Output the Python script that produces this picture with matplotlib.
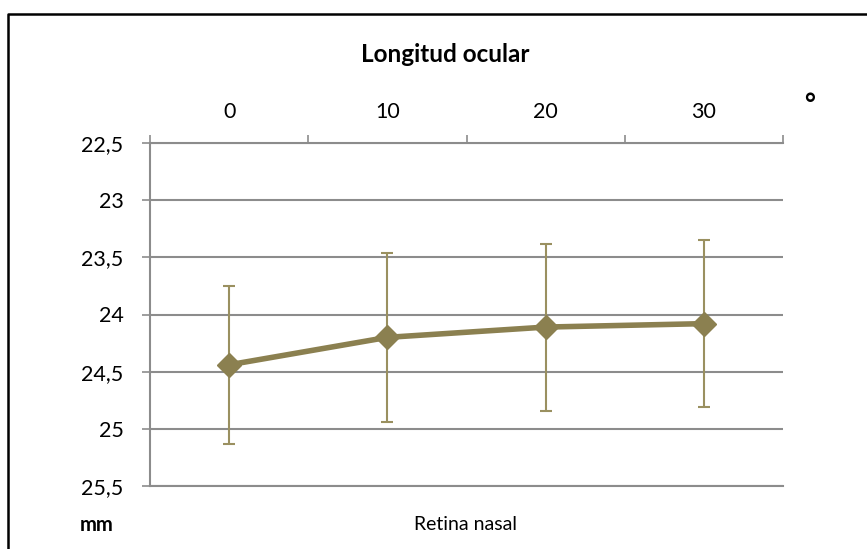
import matplotlib.pyplot as plt
from matplotlib.lines import Line2D
from matplotlib.ticker import FixedLocator, FuncFormatter

# Longitud ocular por excentricidad (retina nasal)
angulos = ["0", "10", "20", "30"]
longitud_media = [24.44, 24.20, 24.11, 24.08]
longitud_de = [0.69, 0.74, 0.73, 0.73]
marcas_y = [22.5, 23.0, 23.5, 24.0, 24.5, 25.0, 25.5]

OLIVA = "#8b8050"
OLIVA_CLARO = "#9a9060"
GRIS = "#8c8c8c"

plt.rcParams["font.family"] = ["Lato", "DejaVu Sans"]

fig = plt.figure(figsize=(8.67, 5.49), dpi=100)
ax = fig.add_axes([150 / 867, 1 - 486 / 549, (783 - 150) / 867, (486 - 143) / 549])

pos = list(range(len(angulos)))
ax.errorbar(pos, longitud_media, yerr=longitud_de, fmt="none",
            ecolor=OLIVA_CLARO, elinewidth=1.5, capsize=4.5, capthick=1.5, zorder=3)
ax.plot(pos, longitud_media, color=OLIVA, linewidth=4, marker="D",
        markersize=12, markerfacecolor=OLIVA, markeredgecolor=OLIVA, zorder=4)

# eje Y invertido, con coma decimal
ax.set_ylim(25.5, 22.5)
ax.set_yticks(marcas_y)
ax.yaxis.set_major_formatter(FuncFormatter(
    lambda v, _: (f"{v:g}").replace(".", ",")))
ax.yaxis.grid(True, color=GRIS, linewidth=1.5)
ax.tick_params(axis="y", length=6, width=1.2, color=GRIS, labelsize=15.5, pad=13)

# eje X arriba: marcas entre categorías, etiquetas centradas
ax.set_xlim(-0.5, len(angulos) - 0.5)
ax.xaxis.tick_top()
ax.xaxis.set_major_locator(FixedLocator([p - 0.5 for p in range(len(angulos) + 1)]))
ax.xaxis.set_major_formatter(FuncFormatter(lambda v, _: ""))
ax.xaxis.set_minor_locator(FixedLocator(pos))
ax.set_xticklabels(angulos, minor=True)
ax.tick_params(axis="x", which="major", length=6, width=1.2, color=GRIS, top=True)
ax.tick_params(axis="x", which="minor", length=0, labelsize=15.5, pad=15, top=True)

for lado in ["top", "left", "bottom"]:
    ax.spines[lado].set_color(GRIS)
    ax.spines[lado].set_linewidth(1.5)
ax.spines["right"].set_visible(False)

fig.text(445 / 867, 1 - 55 / 549, "Longitud ocular", ha="center", va="center",
         fontsize=17.5, fontweight="bold")
fig.text(810 / 867, 1 - 105 / 549, "°", ha="center", va="center",
         fontsize=19, fontweight="bold")
fig.text(97 / 867, 1 - 525 / 549, "mm", ha="center", va="center",
         fontsize=14.5, fontweight="bold")
fig.text(465 / 867, 1 - 525 / 549, "Retina nasal", ha="center", va="center",
         fontsize=14)

# marco del gráfico (borde izquierdo y superior)
fig.add_artist(Line2D([8 / 867, 8 / 867, 1.0], [0.0, 1 - 14 / 549, 1 - 14 / 549],
                      color="black", linewidth=1.8, transform=fig.transFigure))

fig.savefig("out.png", dpi=100)
